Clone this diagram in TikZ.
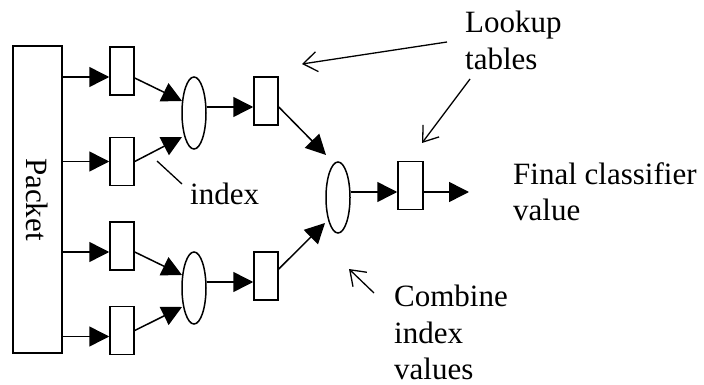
\documentclass[tikz,border=0pt]{standalone}
\usepackage{fontspec}
\setmainfont{Liberation Serif}
\usetikzlibrary{arrows.meta,calc,shapes.geometric}
\begin{document}
\begin{tikzpicture}[x=1pt,y=-1pt,
  tbox/.style={draw,line width=1.5pt,minimum width=24pt,minimum height=48pt,inner sep=0pt},
  comb/.style={draw,ellipse,line width=1.5pt,minimum width=24pt,minimum height=72pt,inner sep=0pt},
  arr/.style={line width=1.5pt,-{Triangle[length=20pt,width=20pt]}},
  pointer/.style={line width=1.3pt,-{Straight Barb[length=14pt,width=20pt,line width=1.3pt]}},
  plain/.style={line width=1.3pt},
  lbl/.style={font=\fontsize{31}{36.3}\selectfont,inner sep=0pt,align=left}]
\useasboundingbox (0,0) rectangle (704,385);
% packet
\node[draw,line width=1.5pt,minimum width=49pt,minimum height=307pt,inner sep=0pt] (pk) at (37.5,199.5) {};
\node[lbl,rotate=-90] (pkt) at (pk.center) {Packet};
% first column tables
\node[tbox] (b1) at (122,71) {};
\node[tbox] (b2) at (122,161.5) {};
\node[tbox] (b3) at (122,246) {};
\node[tbox] (b4) at (122,330.5) {};
% combiners
\node[comb] (e1) at (194,113) {};
\node[comb] (e2) at (194,288) {};
\node[tbox] (b5) at (266,101) {};
\node[tbox] (b6) at (266,276) {};
\node[comb,minimum height=71pt] (e3) at (338,197.5) {};
\node[tbox,minimum width=25pt] (b7) at (410.5,185.5) {};
\coordinate (out) at (469,192);
% arrows packet -> tables
\draw[arr] ($(pk.east|-b1)+(0,6)$) -- ($(b1.west)+(0,6)$);
\draw[arr] (pk.east|-b2) -- (b2.west);
\draw[arr] ($(pk.east|-b3)+(0,6)$) -- ($(b3.west)+(0,6)$);
\draw[arr] ($(pk.east|-b4)+(0,6)$) -- ($(b4.west)+(0,6)$);
% tables -> combiners
\draw[arr] ($(b1.east)+(0,7)$) -- ($(e1.center)+(-12,-12)$);
\draw[arr] (b2.east) -- ($(e1.center)+(-12,24)$);
\draw[arr] ($(b3.east)+(0,6)$) -- ($(e2.center)+(-12,-13)$);
\draw[arr] (b4.east) -- ($(e2.center)+(-12,19)$);
\draw[arr] ($(e1.east)+(0,-6)$) -- ($(b5.west)+(0,6)$);
\draw[arr] ($(e2.east)+(0,-6)$) -- ($(b6.west)+(0,6)$);
\draw[arr] ($(b5.east)+(0,6)$) -- ($(e3.center)+(-12,-42.5)$);
\draw[arr] ($(b6.east)+(0,-7)$) -- ($(e3.center)+(-13,25.5)$);
\draw[arr] ($(e3.east)+(0,-5.5)$) -- ($(b7.west)+(0,6.5)$);
\draw[arr] ($(b7.east)+(0,6.5)$) -- (out);
% labels
\node[lbl,anchor=north west] (lk) at (465,11) {Lookup\\tables};
\node[lbl,anchor=base west] (ix) at (190,204) {index};
\node[lbl,anchor=north west] (fc) at (513,162) {Final classifier\\value};
\node[lbl,anchor=north west] (cb) at (394,285) {Combine\\index\\values};
% pointers
\coordinate (lkA) at (447,42);
\coordinate (lkAt) at (302,64);
\coordinate (lkB) at (470,79);
\coordinate (lkBt) at (422,143);
\draw[pointer] (lkA) -- (lkAt);
\draw[pointer] (lkB) -- (lkBt);
\coordinate (ixA) at (182,184);
\coordinate (ixB) at (157,161);
\draw[plain] (ixA) -- (ixB);
\coordinate (cbA) at (374,293);
\coordinate (cbB) at (349,269);
\draw[pointer] (cbA) -- (cbB);
\end{tikzpicture}
\end{document}
